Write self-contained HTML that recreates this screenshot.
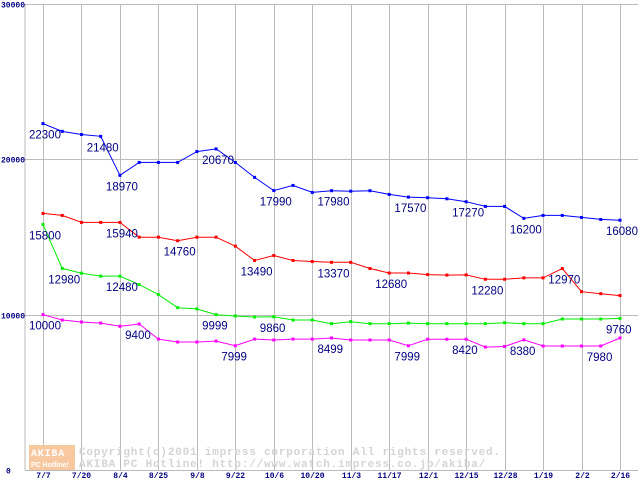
<!DOCTYPE html>
<html><head><meta charset="utf-8"><style>
body{margin:0;background:#fff}
svg{display:block}
.lbl{font-family:"Liberation Sans",sans-serif;font-size:11.5px;fill:#000080}
.tk{font-family:"Liberation Mono",monospace;font-size:8px;font-weight:bold;fill:#000080}
.wm{font-family:"Liberation Mono",monospace;font-size:11px;font-weight:bold;fill:#d4d4d4;letter-spacing:0.8px}
</style></head><body>
<svg id="chart" width="640" height="480" viewBox="0 0 640 480" xmlns="http://www.w3.org/2000/svg"></svg>
<script>
const xTickLabels=["7/7","7/20","8/4","8/25","9/8","9/22","10/6","10/20","11/3","11/17","12/1","12/15","12/28","1/19","2/2","2/16"];
const yTicks=[0,10000,20000,30000];
const blueValues=[22300,21800,21600,21480,18970,19800,19800,19800,20500,20670,19800,18840,17990,18320,17870,17980,17950,17980,17740,17570,17530,17460,17270,16970,16970,16200,16390,16390,16260,16130,16080];
const redValues=[16520,16390,15940,15940,15940,14990,14990,14760,14990,14990,14410,13490,13810,13490,13420,13370,13370,12970,12680,12680,12580,12550,12560,12280,12280,12370,12370,12970,11480,11350,11230];
const greenValues=[15800,12980,12670,12480,12480,11935,11290,10450,10370,9999,9914,9850,9860,9655,9655,9420,9550,9420,9420,9460,9420,9420,9420,9420,9480,9420,9420,9720,9720,9720,9760];
const magentaValues=[10000,9655,9527,9460,9250,9400,8430,8240,8240,8300,7999,8430,8370,8430,8430,8499,8370,8370,8370,7999,8420,8420,8420,7915,7950,8380,7980,7980,7980,7980,8500];
const blueLabels=[0,3,4,9,12,15,19,22,25,30];
const redLabels=[4,7,11,15,18,23,27];
const greenLabels=[0,1,4,9,12,30];
const magentaLabels=[0,5,10,15,19,22,25,29];
const blueLabelText=["22300","21480","18970","20670","17990","17980","17570","17270","16200","16080"];
const redLabelText=["15940","14760","13490","13370","12680","12280","12970"];
const greenLabelText=["15800","12980","12480","9999","9860","9760"];
const magentaLabelText=["10000","9400","7999","8499","7999","8420","8380","7980"];

const svg=document.getElementById('chart');
const NS="http://www.w3.org/2000/svg";
const N=blueValues.length;
const X0=43,X1=620,Y0=470,Y1=4,YMAX=30000;
function xs(i){return X0+(X1-X0)*i/(N-1);}
function ys(v){return Y0-(Y0-Y1)*v/YMAX;}
function mk(t,a){const e=document.createElementNS(NS,t);for(const k in a)e.setAttribute(k,a[k]);svg.appendChild(e);return e;}

let ax=mk('line',{x1:25,y1:4,x2:25,y2:470,stroke:'#bbb'});


yTicks.forEach(v=>{
  const y=Math.round(ys(v))+0.5;
  const g=mk('line',{x1:25,y1:y,x2:638,y2:y,stroke:'#bbb'});
  
  
  const t=mk('text',{x:v===0?6:1,y:y+3,class:'tk'});t.textContent=String(v);
  
  
});
xTickLabels.forEach((s,k)=>{
  const x=Math.round(xs(k*2))+0.5;
  const g=mk('line',{x1:x,y1:4,x2:x,y2:470,stroke:'#bbb'});
  
  
  const t=mk('text',{x:x,y:478,class:'tk','text-anchor':'middle'});t.textContent=s;
  
  
});
let logo=mk('rect',{x:29,y:445,width:46,height:25,fill:'#f8c8a0'});


let lt=mk('text',{x:31,y:456,class:'wm',style:'fill:#fff;font-size:10px'});lt.textContent='AKIBA';


let lt2=mk('text',{x:31,y:467,style:'fill:#fff;font-size:7px;font-family:Liberation Sans,sans-serif;font-weight:bold'});lt2.textContent='PC Hotline!';


let w1=mk('text',{x:79,y:455,class:'wm'});w1.textContent='Copyright(c)2001 impress corporation All rights reserved.';


let w2=mk('text',{x:79,y:467,class:'wm'});w2.textContent='AKIBA PC Hotline!  http://www.watch.impress.co.jp/akiba/';



function series(vals,color,name,labels,texts){
  const pts=vals.map((v,i)=>xs(i).toFixed(1)+','+ys(v).toFixed(1)).join(' ');
  const pl=mk('polyline',{points:pts,fill:'none',stroke:color,'stroke-width':1});
  
  
  vals.forEach((v,i)=>{
    const r=mk('rect',{x:xs(i)-1.5,y:ys(v)-1.5,width:3,height:3,fill:color});
    
    
  });
  labels.forEach((i,k)=>{
    const t=mk('text',{x:xs(i)-14,y:ys(vals[i])+15,class:'lbl'});t.textContent=texts[k];
    
    
  });
}
series(blueValues,'#0000ff','blue-series',blueLabels,blueLabelText);
series(redValues,'#ff0000','red-series',redLabels,redLabelText);
series(greenValues,'#00ee00','green-series',greenLabels,greenLabelText);
series(magentaValues,'#ff00ff','magenta-series',magentaLabels,magentaLabelText);
</script>
</body></html>
